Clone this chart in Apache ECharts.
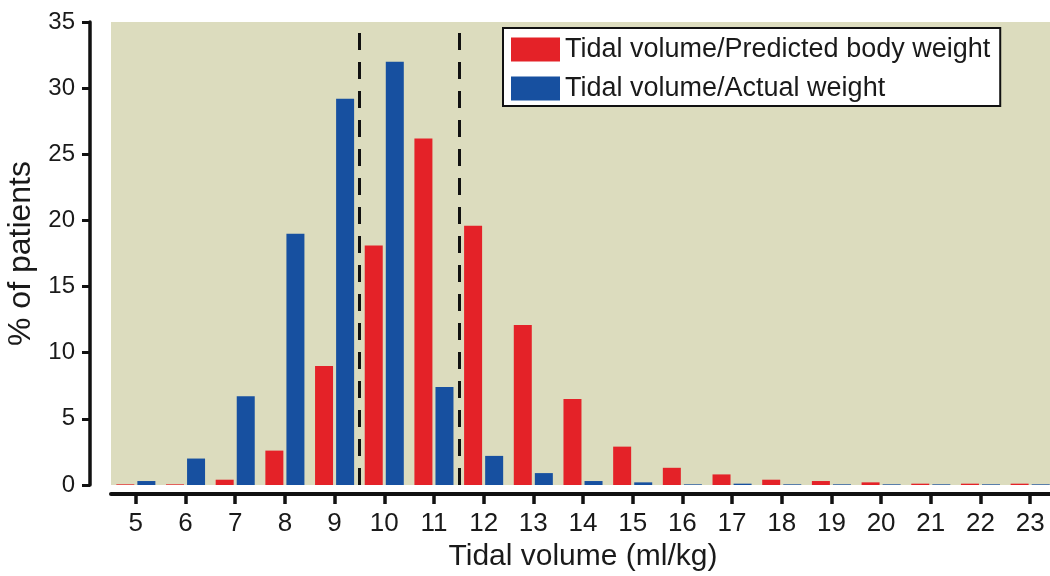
<!DOCTYPE html>
<html>
<head>
<meta charset="utf-8">
<script src="https://cdn.jsdelivr.net/npm/echarts@6/dist/echarts.min.js"></script>
<style>html,body{margin:0;padding:0;background:#fff}#c{width:1050px;height:576px}</style>
</head>
<body>
<div id="c"></div>
<script>
var categories = ['5','6','7','8','9','10','11','12','13','14','15','16','17','18','19','20','21','22','23'];
var predictedBW = [0.05, 0.05, 0.4, 2.6, 9.0, 18.1, 26.2, 19.6, 12.1, 6.5, 2.9, 1.3, 0.8, 0.4, 0.3, 0.2, 0.1, 0.1, 0.1];
var actualW = [0.3, 2.0, 6.7, 19.0, 29.2, 32.0, 7.4, 2.2, 0.9, 0.3, 0.2, 0.05, 0.1, 0.05, 0.05, 0.05, 0.05, 0.05, 0.05];
var thresholds = [9.5, 11.5];
var seriesNames = ['Tidal volume/Predicted body weight', 'Tidal volume/Actual weight'];

var font = '"Liberation Sans", Arial, sans-serif';
var chart = echarts.init(document.getElementById('c'), null, {renderer: 'canvas'});
chart.setOption({
  animation: false,
  textStyle: {fontFamily: font},
  grid: {
    left: 111, top: 22, width: 944, bottom: 91,
    outerBoundsMode: 'none', containLabel: false,
    show: true, backgroundColor: '#dcdcbe', borderWidth: 0
  },
  legend: {
    orient: 'vertical', left: 503, top: 28,
    backgroundColor: '#ffffff', borderColor: '#111', borderWidth: 2,
    padding: [8, 10, 4, 8], itemGap: 12,
    itemWidth: 49, itemHeight: 24, icon: 'rect',
    textStyle: {fontSize: 27, color: '#1a1a1a', fontFamily: font},
    data: seriesNames
  },
  xAxis: [{
    type: 'category', data: categories, offset: 9,
    axisLine: {show: true, onZero: false, lineStyle: {color: '#111', width: 4}},
    axisTick: {show: true, inside: false, alignWithLabel: true, interval: 0, length: 10, lineStyle: {color: '#111', width: 3.5}},
    axisLabel: {fontSize: 26, color: '#1a1a1a', margin: 17, interval: 0, fontFamily: font},
    name: 'Tidal volume (ml/kg)', nameLocation: 'middle', nameGap: 34,
    nameTextStyle: {fontSize: 30, color: '#1a1a1a', fontFamily: font}
  }, {
    type: 'value', min: 4.5, max: 23.5, show: false
  }],
  yAxis: {
    type: 'value', min: 0, max: 35, interval: 5, offset: 21,
    axisLine: {show: true, onZero: false, lineStyle: {color: '#111', width: 3.5}},
    axisTick: {show: true, length: 8, lineStyle: {color: '#111', width: 3}},
    splitLine: {show: false},
    axisLabel: {fontSize: 24, color: '#1a1a1a', margin: 15, fontFamily: font},
    name: '% of patients', nameLocation: 'middle', nameGap: 52,
    nameTextStyle: {fontSize: 32, color: '#1a1a1a', fontFamily: font}
  },
  series: [{
    name: seriesNames[0], type: 'bar', data: predictedBW,
    barWidth: 18, barGap: '17%', itemStyle: {color: '#e42228'}
  }, {
    name: seriesNames[1], type: 'bar', data: actualW,
    barWidth: 18, barGap: '17%', itemStyle: {color: '#1750a0'}
  }, {
    type: 'scatter', xAxisIndex: 1, data: [], silent: true,
    markLine: {
      symbol: 'none', silent: true, label: {show: false},
      lineStyle: {color: '#111', width: 3, type: [17, 12]},
      data: thresholds.map(function (t) { return {xAxis: t}; })
    }
  }]
});
</script>
</body>
</html>
